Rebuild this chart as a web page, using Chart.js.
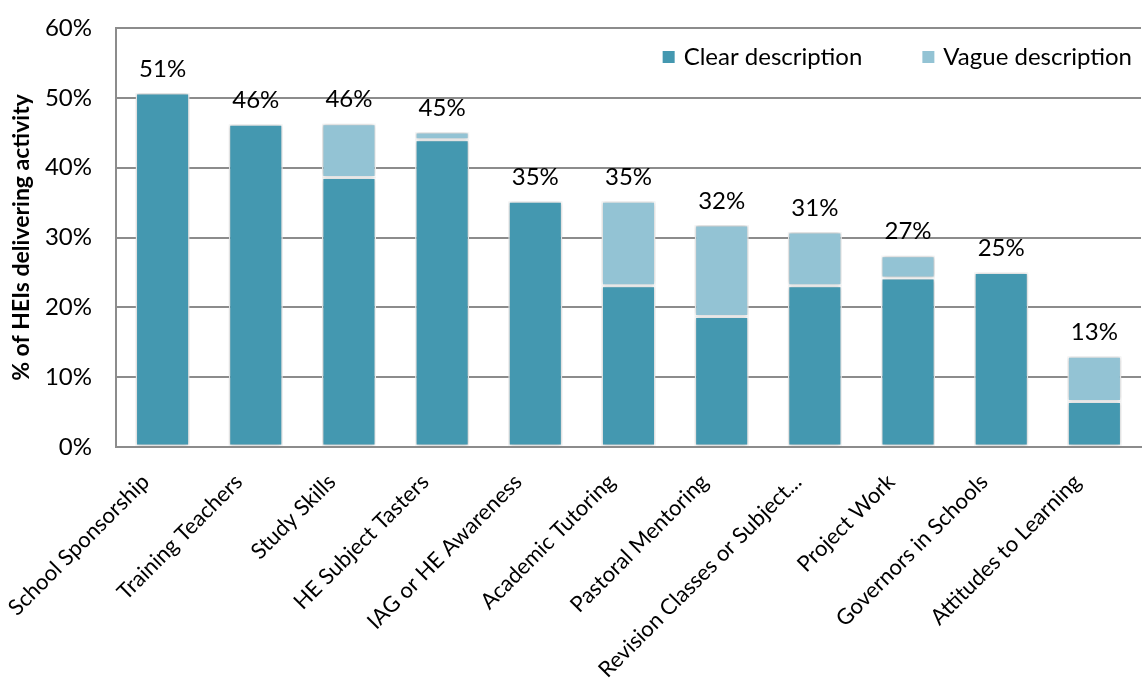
<!DOCTYPE html>
<html>
<head>
<meta charset="utf-8">
<title>HEI activities</title>
<script src="https://cdn.jsdelivr.net/npm/chart.js@4.4.1/dist/chart.umd.min.js"></script>
<style>
  html, body { margin: 0; padding: 0; background: #fff; }
  #wrap { width: 1142px; height: 685px; }
</style>
</head>
<body>
<div id="wrap"><canvas id="mainChart" width="1142" height="685"></canvas></div>
<script>
const activities = [
    'School Sponsorship', 'Training Teachers', 'Study Skills', 'HE Subject Tasters',
    'IAG or HE Awareness', 'Academic Tutoring', 'Pastoral Mentoring',
    'Revision Classes or Subject...', 'Project Work', 'Governors in Schools',
    'Attitudes to Learning'
];
const clearDescription = [50.7, 46.2, 38.6, 44.0, 35.2, 23.1, 18.7, 23.1, 24.2, 25.0, 6.5];
const vagueDescription = [0, 0, 7.7, 1.1, 0, 12.1, 13.1, 7.7, 3.2, 0, 6.5];
const yTicks = [0, 10, 20, 30, 40, 50, 60];

const FONT = 'Lato, "Open Sans", sans-serif';
const CLEAR_COLOR = '#4498b0';
const VAGUE_COLOR = '#93c3d4';

document.addEventListener('DOMContentLoaded', function() {
    const totals = clearDescription.map((v, i) => v + vagueDescription[i]);

    // soft drop shadow behind the bars
    const barShadow = {
        id: 'barShadow',
        beforeDatasetsDraw(chart) {
            const c = chart.ctx;
            c.save();
            c.shadowColor = 'rgba(0,0,0,0.28)';
            c.shadowBlur = 4;
            c.shadowOffsetX = 0;
            c.shadowOffsetY = 0;
        },
        afterDatasetsDraw(chart) {
            chart.ctx.restore();
        }
    };

    // total above each stack + legend inside the plot
    const overlay = {
        id: 'overlay',
        afterDatasetsDraw(chart) {
            const c = chart.ctx;
            const top = chart.getDatasetMeta(1);
            c.save();
            c.font = '24px ' + FONT;
            c.fillStyle = '#000';
            c.textAlign = 'center';
            c.textBaseline = 'bottom';
            top.data.forEach((bar, i) => {
                c.fillText(Math.round(totals[i]) + '%', bar.x, bar.y - 12);
            });

            // legend, laid out from the right edge
            const area = chart.chartArea;
            const items = [
                { text: 'Clear description', color: CLEAR_COLOR },
                { text: 'Vague description', color: VAGUE_COLOR }
            ];
            const y = area.top + 29;
            let x = area.right - 9;
            c.textAlign = 'left';
            c.textBaseline = 'middle';
            for (let k = items.length - 1; k >= 0; k--) {
                const w = c.measureText(items[k].text).width;
                const tx = x - w;
                c.fillStyle = '#000';
                c.fillText(items[k].text, tx, y);
                c.fillStyle = items[k].color;
                c.fillRect(tx - 21, y - 6, 12, 12);
                x = tx - 21 - 60;
            }
            c.restore();
        }
    };

    const ctx = document.getElementById('mainChart').getContext('2d');
    new Chart(ctx, {
        type: 'bar',
        data: {
            labels: activities,
            datasets: [{
                label: 'Clear description',
                data: clearDescription,
                backgroundColor: CLEAR_COLOR,
                borderColor: '#ffffff',
                borderWidth: 1.5,
                borderSkipped: false,
                categoryPercentage: 1,
                barPercentage: 0.58
            }, {
                label: 'Vague description',
                data: vagueDescription,
                backgroundColor: VAGUE_COLOR,
                borderColor: '#ffffff',
                borderWidth: 1.5,
                borderSkipped: false,
                categoryPercentage: 1,
                barPercentage: 0.58
            }]
        },
        options: {
            responsive: false,
            animation: false,
            layout: { padding: { top: 28, right: 1, left: 0, bottom: 0 } },
            plugins: {
                legend: { display: false },
                tooltip: { enabled: false }
            },
            scales: {
                x: {
                    stacked: true,
                    grid: { display: false },
                    border: { color: '#8c8c8c', width: 2 },
                    ticks: {
                        autoSkip: false,
                        minRotation: 45,
                        maxRotation: 45,
                        padding: 14,
                        labelOffset: -17,
                        color: '#000',
                        font: { family: FONT, size: 22 }
                    },
                    afterFit(scale) {
                        scale.height = 238;
                        scale.paddingLeft = 0;
                        scale.paddingRight = 0;
                    }
                },
                y: {
                    stacked: true,
                    min: 0,
                    max: 60,
                    afterBuildTicks(scale) {
                        scale.ticks = yTicks.map(v => ({ value: v }));
                    },
                    grid: { color: '#8c8c8c', lineWidth: 2, drawTicks: false },
                    border: { color: '#8c8c8c', width: 2 },
                    ticks: {
                        padding: 24,
                        color: '#000',
                        font: { family: FONT, size: 24 },
                        callback: (v) => v + '%'
                    },
                    title: {
                        display: true,
                        text: '% of HEIs delivering activity',
                        color: '#000',
                        font: { family: FONT, size: 23, weight: 'bold' },
                        padding: { top: 8, bottom: 0 }
                    },
                    afterFit(scale) {
                        scale.width = 116;
                        scale.paddingTop = 0;
                        scale.paddingBottom = 0;
                    }
                }
            }
        },
        plugins: [barShadow, overlay]
    });
});
</script>
</body>
</html>
